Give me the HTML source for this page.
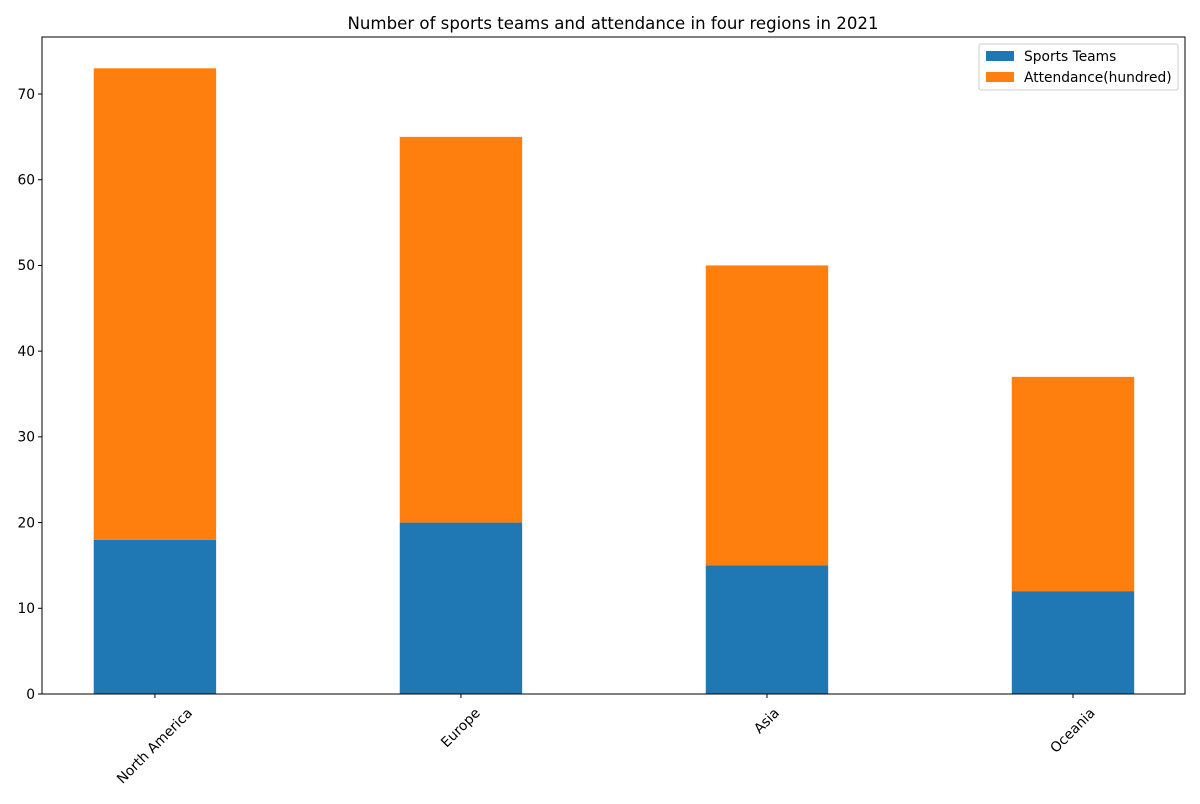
<!DOCTYPE html>
<html><head><meta charset="utf-8"><style>
body{margin:0;background:#fff;font-family:"DejaVu Sans","Liberation Sans",sans-serif;}
</style></head><body>
<svg id="chart" width="1200" height="800" xmlns="http://www.w3.org/2000/svg" font-family="DejaVu Sans, Liberation Sans, sans-serif">
<text x="613" y="29" text-anchor="middle" font-size="16.6" fill="#000">Number of sports teams and attendance in four regions in 2021</text>
<g id="bars"></g>
<g id="axes"></g>
<g>
<rect x="979" y="44" width="199" height="46" fill="#fff" stroke="#ccc" rx="2"/>
<rect x="986" y="51" width="28" height="10" fill="#1f77b4"/>
<text x="1024" y="61" font-size="13.8">Sports Teams</text>
<rect x="986" y="72" width="28" height="10" fill="#ff7f0e"/>
<text x="1024" y="82" font-size="13.8">Attendance(hundred)</text>
</g>
</svg>
<script>
const categories = ["North America","Europe","Asia","Oceania"];
const sportsTeams = [18,20,15,12];
const attendance = [55,45,35,25];
const yTicks = [0,10,20,30,40,50,60,70];

const L=42,R=1185,T=37,B=694;
const xMin=-0.369,xMax=3.366,yMax=76.65;
const NS="http://www.w3.org/2000/svg";
function xs(v){return L+(v-xMin)/(xMax-xMin)*(R-L);}
function ys(v){return B-v/yMax*(B-T);}
const bw=0.4*(R-L)/(xMax-xMin);
const bars=document.getElementById('bars'), axes=document.getElementById('axes');
function mk(tag,attrs,parent){const e=document.createElementNS(NS,tag);for(const k in attrs)e.setAttribute(k,attrs[k]);parent.appendChild(e);return e;}
categories.forEach((c,i)=>{
  const cx=xs(i);
  const r1=mk('rect',{x:cx-bw/2,y:ys(sportsTeams[i]),width:bw,height:ys(0)-ys(sportsTeams[i]),fill:'#1f77b4'},bars);
  
  
  const top=sportsTeams[i]+attendance[i];
  const r2=mk('rect',{x:cx-bw/2,y:ys(top),width:bw,height:ys(sportsTeams[i])-ys(top),fill:'#ff7f0e'},bars);
  
  
  mk('line',{x1:cx,x2:cx,y1:B,y2:B+4,stroke:'#000'},axes);
  const t=mk('text',{x:0,y:0,'font-size':13.8,'text-anchor':'middle','dominant-baseline':'central'},axes);
  t.textContent=c;
  
  
  const len=t.getComputedTextLength();
  const cy=B+12+(len+14)*0.7071/2;
  t.setAttribute('transform',`translate(${cx} ${cy}) rotate(-45)`);
});
yTicks.forEach(v=>{
  const y=ys(v);
  mk('line',{x1:L-4,x2:L,y1:y,y2:y,stroke:'#000'},axes);
  const t=mk('text',{x:L-7,y:y+4.8,'font-size':13.8,'text-anchor':'end'},axes);
  t.textContent=v;
  
  
});
const f=mk('rect',{x:L,y:T,width:R-L,height:B-T,fill:'none',stroke:'#000','stroke-width':1},axes);


</script>
</body></html>
